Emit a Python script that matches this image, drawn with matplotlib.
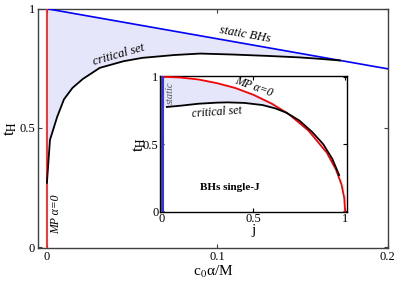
import numpy as np
import matplotlib
matplotlib.use("Agg")
import matplotlib.pyplot as plt

plt.rcParams['font.family'] = ['Liberation Serif', 'DejaVu Serif']
plt.rcParams['mathtext.fontset'] = 'stix'

# main panel: t_H vs c0*alpha/M
static_c = [0.0, 0.2]
static_t = [1.0, 0.748]
mp_c = [0.0, 0.0]
mp_t = [0.0, 1.0]
crit_c = [0.0, 0.0008, 0.0018, 0.006, 0.010, 0.015, 0.021, 0.031, 0.045,
          0.056, 0.075, 0.090, 0.109, 0.130, 0.148, 0.160, 0.172]
crit_t = [0.27, 0.35, 0.45, 0.546, 0.62, 0.668, 0.705, 0.752, 0.780,
          0.794, 0.806, 0.812, 0.808, 0.802, 0.796, 0.790, 0.783]

# inset: single-J black holes, t_H vs j
kerr_j = [0.0, 0.1, 0.2, 0.3, 0.4, 0.5, 0.6, 0.68, 0.7, 0.8, 0.9, 0.95, 0.98, 0.995, 1.0]
kerr_t = [1.0, 0.995, 0.98, 0.953, 0.917, 0.866, 0.80, 0.733, 0.714, 0.60, 0.436, 0.31, 0.20, 0.10, 0.0]
sj_crit_j = [0.027, 0.1, 0.2, 0.3, 0.36, 0.45, 0.55, 0.62, 0.68, 0.75, 0.82, 0.88, 0.93, 0.967]
sj_crit_t = [0.776, 0.785, 0.80, 0.808, 0.81, 0.806, 0.79, 0.765, 0.733, 0.675, 0.59, 0.50, 0.39, 0.27]
sj_static_j = [0.0, 0.0]
sj_static_t = [0.0, 1.0]

fill_col = '#e6e6fa'
spine_col = '#404040'

fig = plt.figure(figsize=(4.03, 2.82), dpi=100)
ax = fig.add_axes([0.094, 0.121, 0.868, 0.848])

cc = np.array(crit_c)
ct = np.array(crit_t)
ax.fill(np.r_[static_c[0], cc[::-1]], np.r_[static_t[0], ct[::-1]],
        color=fill_col, lw=0, zorder=1)
ax.plot(static_c, static_t, color='#0000ff', lw=1.2, zorder=3)
ax.plot(mp_c, mp_t, color='#ff2020', lw=1.3, zorder=3)
ax.plot(crit_c, crit_t, color='black', lw=1.3, zorder=4)

ax.set_xlim(-0.0053, 0.2)
ax.set_ylim(-0.003, 1.0)
ax.set_xticks([0, 0.1, 0.2])
ax.set_xticklabels(['0', '0.1', '0.2'])
ax.set_yticks([0, 0.5, 1])
ax.set_yticklabels(['0', '0.5', '1'])
ax.tick_params(direction='in', top=True, right=True, labelsize=9, length=3,
               color=spine_col, pad=2)
for s in ax.spines.values():
    s.set_color(spine_col)
    s.set_linewidth(1.0)
ax.set_xlabel(r'c$_0$α/M', fontsize=11, labelpad=1)
ax.set_ylabel(r't$_\mathrm{H}$', fontsize=12, labelpad=0)

ax.text(0.042, 0.805, 'critical set', style='italic', fontsize=9,
        rotation=16, ha='center', va='center')
ax.text(0.116, 0.893, 'static BHs', style='italic', fontsize=9,
        rotation=-10, ha='center', va='center')
ax.text(0.0055, 0.14, r'MP α=0', style='italic', fontsize=8.5,
        rotation=90, ha='center', va='center')

# inset
ins = fig.add_axes([0.397, 0.248, 0.464, 0.482])
kj = np.array(kerr_j)
kt = np.array(kerr_t)
sj = np.array(sj_crit_j)
st = np.array(sj_crit_t)
m1 = kj <= 0.68
m2 = sj <= 0.68
ins.fill(np.r_[kj[m1], sj[m2][::-1], 0.0],
         np.r_[kt[m1], st[m2][::-1], st[0]],
         color=fill_col, lw=0, zorder=1)
ins.plot(kerr_j, kerr_t, color='#ff0000', lw=1.3, zorder=3)
ins.plot(sj_crit_j, sj_crit_t, color='black', lw=1.3, zorder=4)
ins.plot(sj_static_j, sj_static_t, color='#3030ff', lw=2.2, zorder=5)

ins.set_xlim(-0.01, 1.01)
ins.set_ylim(-0.005, 1.005)
ins.set_xticks([0, 0.5, 1])
ins.set_xticklabels(['0', '0.5', '1'])
ins.set_yticks([0, 0.5, 1])
ins.set_yticklabels(['0', '0.5', '1'])
ins.tick_params(direction='in', top=True, right=True, labelsize=9, length=3,
                pad=1)
for s in ins.spines.values():
    s.set_linewidth(1.0)
ins.set_xlabel('j', fontsize=11, labelpad=-1)
ins.set_ylabel(r't$_\mathrm{H}$', fontsize=12, labelpad=-4)

ins.text(0.3, 0.735, 'critical set', style='italic', fontsize=8.5,
         rotation=4, ha='center', va='center')
ins.text(0.5, 0.925, r'MP α=0', style='italic', fontsize=8.5,
         rotation=-20, ha='center', va='center')
ins.text(0.045, 0.88, 'static', style='italic', fontsize=7.5, color='#555555',
         rotation=90, ha='center', va='center')
ins.text(0.37, 0.18, 'BHs single-J', fontweight='bold', fontsize=8,
         ha='center', va='center')

fig.savefig('out.png', dpi=100)
